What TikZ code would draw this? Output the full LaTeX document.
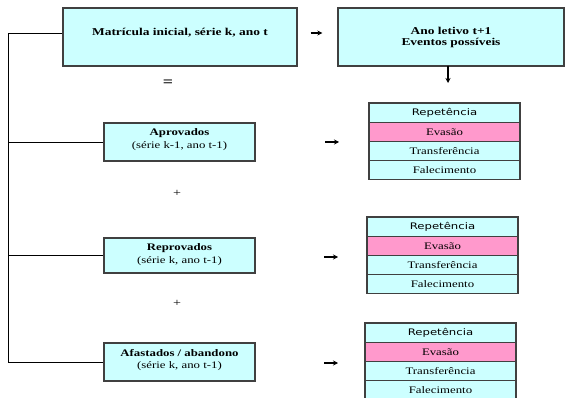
\documentclass[tikz,border=0pt]{standalone}
\usepackage{fontspec}
\setmainfont{Liberation Serif}[FakeStretch=1.28]
\newfontfamily\dvs{DejaVu Sans}[FakeStretch=1.3]
\usetikzlibrary{arrows.meta}
\definecolor{cy}{HTML}{CCFFFF}
\definecolor{pk}{HTML}{FF99CC}
\definecolor{bd}{HTML}{404040}
\tikzset{
  bigbox/.style={draw=bd, line width=1.3pt, fill=cy, minimum width=#1, minimum height=58pt, inner sep=0pt, align=center, font=\fontsize{10.5}{11}\selectfont\bfseries},
  midbox/.style={draw=bd, line width=1.2pt, fill=cy, minimum width=151pt, minimum height=#1, inner sep=0pt},
  boxtext/.style={inner sep=0pt, align=center, font=\fontsize{10}{12.5}\selectfont},
  row/.style={draw=bd, line width=1.1pt, fill=cy, minimum width=151pt, minimum height=19.2pt, inner sep=0pt, font=\fontsize{10}{11}\selectfont},
  pinkrow/.style={row, fill=pk},
  sym/.style={inner sep=0pt, font=\fontsize{11}{12}\selectfont},
  arr/.style={line width=1.3pt, -{Stealth[length=5pt,width=5pt]}},
  brk/.style={line width=0.8pt, black}
}
\begin{document}
\begin{tikzpicture}[x=1pt,y=-1pt]
\useasboundingbox (0,0) rectangle (565,398);
\clip (0,0) rectangle (565,398);
% top boxes
\node[bigbox=234pt] (mat) at (180,37) {\smash{\raisebox{1.5pt}{Matrícula inicial, série k, ano t}}};
\node[bigbox=226pt] (ano) at (451,37) {Ano letivo t+1\\Eventos possíveis};
\draw[arr, shorten <=13pt, shorten >=15pt] (mat.east |- 0,33) -- (ano.west |- 0,33);
\coordinate (dtop) at (448,66);
\coordinate (dbot) at (448,83);
\draw[arr] (dtop) -- (dbot);
\node[sym, font=\fontsize{14}{14}\selectfont\bfseries] (eq) at (168,83) {=};
% left boxes
\node[midbox=38pt] (apr) at (179.5,142) {};
\node[boxtext] (aprt) at (179.5,139.5) {\textbf{Aprovados}\\(série k-1, ano t-1)};
\node[sym] (p1) at (177,193) {+};
\node[midbox=35pt] (rep) at (179.5,255.5) {};
\node[boxtext] (rept) at (179.5,254.5) {\textbf{Reprovados}\\(série k, ano t-1)};
\node[sym] (p2) at (177,303) {+};
\node[midbox=38pt] (afa) at (179.5,362) {};
\node[boxtext] (afat) at (179.5,360) {\textbf{Afastados / abandono}\\(série k, ano t-1)};
% bracket
\coordinate (bk) at (8,33);
\draw[brk] (mat.west |- bk) -- (bk) -- (bk |- afa.west) -- (afa.west);
\draw[brk] (bk |- apr.west) -- (apr.west);
\draw[brk] (bk |- rep.west) -- (rep.west);
% tables
\foreach \t/\cx/\ty in {1/444.5/103, 2/442.5/217, 3/440.5/323}{
  \node[row] (t\t a) at (\cx,\ty+9.6) {\dvs\fontsize{9}{10}\selectfont Repetência};
  \node[pinkrow] (t\t b) at (\cx,\ty+28.8) {Evasão};
  \node[row] (t\t c) at (\cx,\ty+48) {Transferência};
  \node[row] (t\t d) at (\cx,\ty+67.2) {Falecimento};
}
% side arrows
\coordinate (s1a) at (325,142); \coordinate (s1b) at (339,142);
\coordinate (s2a) at (324,257); \coordinate (s2b) at (338,257);
\coordinate (s3a) at (324,363); \coordinate (s3b) at (338,363);
\draw[arr] (s1a) -- (s1b);
\draw[arr] (s2a) -- (s2b);
\draw[arr] (s3a) -- (s3b);
\end{tikzpicture}
\end{document}
